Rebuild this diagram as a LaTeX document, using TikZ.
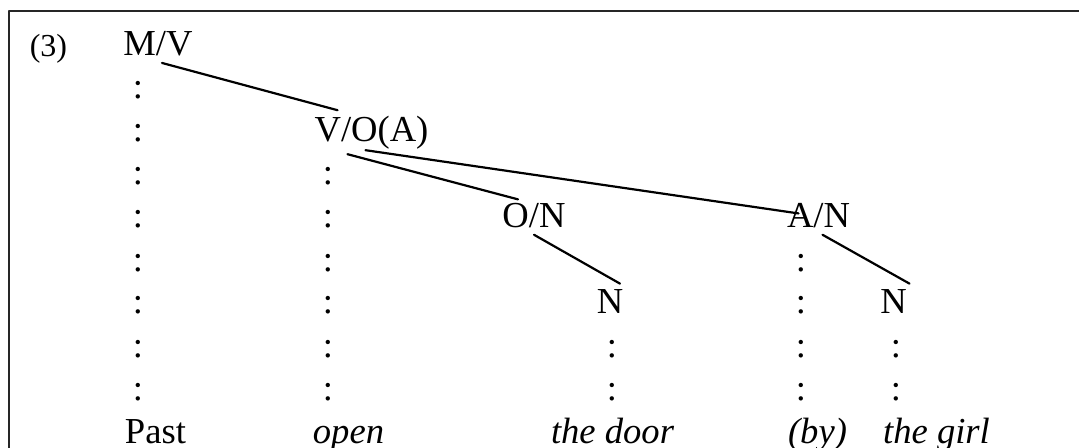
\documentclass[tikz,border=0pt]{standalone}
\usepackage{fontspec}
\setmainfont{Liberation Serif}
\begin{document}
\begin{tikzpicture}[x=0.5pt,y=-0.5pt,line join=round,line cap=round,
	lab/.style={anchor=base,inner sep=3pt,font=\fontsize{18.3}{20}\selectfont},
	word/.style={lab,font=\fontsize{18.3}{20}\selectfont\itshape},
	colon/.style={anchor=base,inner sep=0pt,font=\fontsize{18.3}{20}\selectfont},
	branch/.style={line width=1.1pt}]
	% Frame (runs off the right and bottom edges)
	\useasboundingbox (0,0) rectangle (1079,448);
	\clip (0,0) rectangle (1079,448);
	\draw[line width=1.3pt,black!85] (9,11) rectangle (1100,470);
	
	% Example number
	\node[lab,font=\fontsize{16}{18}\selectfont] (num) at (48.5,57) {(3)};
	
	% Tree labels
	\node[lab] (mv) at (158,56) {M/V};
	\node[lab] (vo) at (371.5,142) {V/O(A)};
	\node[lab] (on) at (534,228) {O/N};
	\node[lab] (an) at (818.5,228) {A/N};
	\node[lab] (n1) at (610,314) {N};
	\node[lab] (n2) at (893.5,314) {N};
	
	% Words
	\node[lab] (past) at (155.5,443) {Past};
	\node[word] (open) at (348.5,443) {open};
	\node[word] (door) at (612.5,443) {the door};
	\node[word] (by) at (817.5,443) {(by)};
	\node[word] (girl) at (936.5,443) {the girl};
	
	% Dotted columns
	\foreach \cx/\ra/\rb in {138/2/9,328/4/9,612/8/9,801/6/9,896/8/9}
		\foreach \r in {\ra,...,\rb}
			\node[colon] (col-\cx-\r) at (\cx,{13+43*\r}) {:};
	
	% Branches
	\draw[branch] ([xshift=2pt]mv.south) -- ([xshift=-17pt]vo.north);
	\draw[branch] ([xshift=-12pt,yshift=1pt]vo.south) -- ([xshift=-8pt,yshift=-1pt]on.north);
	\draw[branch] ([xshift=-3pt,yshift=3pt]vo.south) -- ([xshift=-10pt,yshift=-8pt]an.north);
	\draw[branch] (on.south) -- ([xshift=5pt]n1.north);
	\draw[branch] ([xshift=2pt]an.south) -- ([xshift=8pt]n2.north);
\end{tikzpicture}
\end{document}
